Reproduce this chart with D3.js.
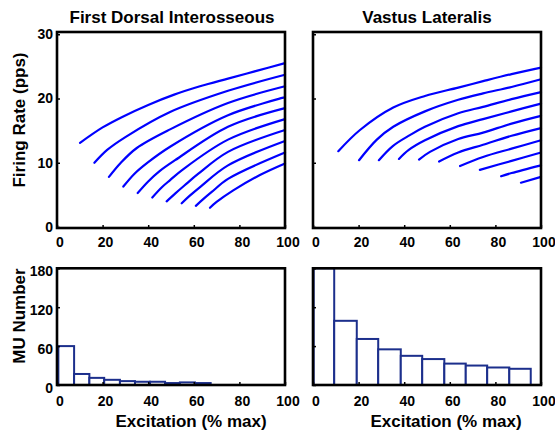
<!DOCTYPE html>
<html>
<head>
<meta charset="utf-8">
<script src="https://cdn.jsdelivr.net/npm/d3@7"></script>
<style>
  body { margin: 0; background: #fff; }
  svg { display: block; font-family: "Liberation Sans", Arial, Helvetica, sans-serif; font-weight: bold; }
</style>
</head>
<body>
<svg width="555" height="432"></svg>
<script>
const xTicks = [0, 20, 40, 60, 80, 100];
const rateTicks = [0, 10, 20, 30];
const countTicks = [0, 60, 120, 180];

// firing rate curves, [excitation %, rate pps]
const fdiCurves = [
    [[10.1, 13.1], [20, 15.5], [28.4, 17.1], [40, 19.0], [51.4, 20.6], [62.7, 21.9], [75, 23.1], [87.5, 24.3], [100, 25.5]],
    [[16.4, 10.0], [22, 12.0], [30, 14.0], [49.6, 17.9], [75, 21.2], [100, 23.7]],
    [[22.8, 7.8], [28, 10.0], [35, 12.3], [49.6, 15.2], [75, 19.3], [100, 21.9]],
    [[29.1, 6.3], [34, 8.3], [40, 10.1], [49.6, 12.5], [75, 17.4], [100, 20.2]],
    [[35.4, 5.3], [40, 7.1], [45, 8.7], [51.8, 10.4], [75, 15.6], [100, 18.5]],
    [[41.8, 4.6], [46, 6.2], [49.6, 7.3], [55, 8.9], [75, 13.6], [100, 16.8]],
    [[48.1, 4.0], [51.8, 5.2], [56, 6.5], [62, 8.3], [75, 11.7], [100, 15.1]],
    [[54.7, 3.7], [58, 4.8], [63, 6.3], [75, 9.6], [100, 13.4]],
    [[60.9, 3.3], [64, 4.3], [68, 5.5], [75, 7.5], [100, 11.6]],
    [[67.1, 3.0], [70, 3.9], [77.3, 5.7], [89, 8.1], [100, 9.9]]
];
const vlCurves = [
    [[11.1, 11.8], [20.6, 15.1], [35.2, 18.6], [49.1, 20.4], [63.7, 21.7], [74.6, 22.7], [87.1, 23.8], [100, 24.8]],
    [[20.2, 10.4], [28.0, 13.6], [35.2, 15.6], [49.1, 18.0], [63.7, 19.8], [74.6, 20.8], [87.1, 21.8], [100, 23.0]],
    [[28.9, 10.4], [35, 12.6], [42.5, 14.3], [49.1, 15.6], [63.7, 17.7], [74.6, 18.7], [87.1, 19.9], [100, 21.0]],
    [[37.7, 10.6], [42, 12.0], [49.1, 13.5], [63.7, 15.7], [74.6, 16.8], [87.1, 18.0], [100, 19.2]],
    [[46.5, 10.5], [51.3, 11.7], [63.7, 13.7], [74.6, 14.7], [87.1, 16.1], [100, 17.3]],
    [[55.3, 10.2], [63.7, 11.6], [74.6, 12.8], [87.1, 14.2], [100, 15.4]],
    [[64.5, 9.5], [74.6, 10.9], [87.1, 12.2], [100, 13.5]],
    [[73.2, 8.9], [87.1, 10.3], [100, 11.6]],
    [[82.5, 7.9], [87.1, 8.4], [100, 9.6]],
    [[91.2, 6.9], [100, 7.8]]
];

// recruitment threshold histograms
const fdiBinEdges = [0.6, 7.5, 14.2, 20.7, 27.6, 34.2, 40.8, 47.4, 53.9, 60.5, 67.4];
const fdiCounts = [60, 17, 11, 8, 6, 5, 5, 3, 4, 3];
const vlBinEdges = [0.3, 9.3, 19.2, 28.6, 38.5, 47.9, 57.6, 67.0, 76.4, 86.1, 95.5];
const vlCounts = [180, 99, 71, 55, 45, 40, 33, 30, 27, 25];

const svg = d3.select('svg');
const FONT = '"Liberation Sans", Arial, Helvetica, sans-serif';

function makeScales(x0, x1, y0, y1, yDomain) {
    const x = d3.scaleLinear().domain([0, 100]).range([x0, x1]);
    const y = d3.scaleLinear().domain(yDomain).range([y1, y0]);
    return {x, y};
}

function drawAxes(x, y, yTicks, yLabels, xPad, yShift) {
    const xa = svg.append('g')
        .attr('transform', `translate(0,${y.range()[0]})`)
        .call(d3.axisBottom(x).tickValues(xTicks).tickSize(-3).tickPadding(xPad));
    const ya = svg.append('g')
        .attr('transform', `translate(${x.range()[0]},0)`)
        .call(d3.axisLeft(y).tickValues(yTicks).tickSize(-3).tickPadding(4)
            .tickFormat(yLabels ? d3.format('d') : () => ''));
    [xa, ya].forEach(a => {
        a.attr('font-family', FONT).attr('font-size', 14).attr('font-weight', 'bold');
        a.select('.domain').remove();
        a.selectAll('line').attr('stroke', '#000').attr('stroke-width', 1.5);
        a.selectAll('text').attr('fill', '#000');
    });
    xa.selectAll('text').attr('dx', 2.5);
    ya.selectAll('text').attr('transform', `translate(0,${yShift})`);
}

function drawFrame(x, y) {
    const [xa, xb] = x.range();
    const [yb, ya] = y.range();
    svg.append('rect')
        .attr('x', xa).attr('y', ya)
        .attr('width', xb - xa).attr('height', yb - ya)
        .attr('fill', 'none').attr('stroke', '#000').attr('stroke-width', 2.6);
}

function drawCurves(x, y, curves) {
    const line = d3.line().x(d => x(d[0])).y(d => y(d[1])).curve(d3.curveCatmullRom.alpha(0.5));
    svg.append('g').selectAll('path')
        .data(curves)
        .join('path')
        .attr('d', line)
        .attr('fill', 'none').attr('stroke', '#0000ff').attr('stroke-width', 2.2)
        .attr('stroke-linecap', 'round');
}

function drawHist(x, y, edges, counts) {
    svg.append('g').selectAll('rect')
        .data(counts)
        .join('rect')
        .attr('x', (d, i) => x(edges[i]))
        .attr('width', (d, i) => x(edges[i + 1]) - x(edges[i]))
        .attr('y', d => y(d))
        .attr('height', d => y(0) - y(d))
        .attr('fill', '#fff').attr('stroke', '#1c2f8c').attr('stroke-width', 2);
}

// top row: firing rates
const fdiTop = makeScales(57, 285, 32, 228, [-0.15, 30.35]);
drawCurves(fdiTop.x, fdiTop.y, fdiCurves);
drawAxes(fdiTop.x, fdiTop.y, rateTicks, true, 9, 0);
drawFrame(fdiTop.x, fdiTop.y);

const vlTop = makeScales(313, 541, 32, 228, [-0.15, 30.35]);
drawCurves(vlTop.x, vlTop.y, vlCurves);
drawAxes(vlTop.x, vlTop.y, rateTicks, false, 9, 0);
drawFrame(vlTop.x, vlTop.y);

// bottom row: threshold histograms
const fdiBot = makeScales(57, 285, 268.3, 385, [0, 180]);
drawHist(fdiBot.x, fdiBot.y, fdiBinEdges, fdiCounts);
drawAxes(fdiBot.x, fdiBot.y, countTicks, true, 11.5, 3);
drawFrame(fdiBot.x, fdiBot.y);

const vlBot = makeScales(313, 541, 268.3, 385, [0, 180]);
drawHist(vlBot.x, vlBot.y, vlBinEdges, vlCounts);
drawAxes(vlBot.x, vlBot.y, countTicks, false, 11.5, 3);
drawFrame(vlBot.x, vlBot.y);

// labels
function label(txt, x, y, rotate) {
    svg.append('text')
        .attr('transform', `translate(${x},${y})` + (rotate ? ' rotate(-90)' : ''))
        .attr('text-anchor', 'middle')
        .attr('font-size', 17)
        .attr('fill', '#000')
        .text(txt);
}
label('First Dorsal Interosseous', 172, 22.7);
label('Vastus Lateralis', 427, 22.7);
label('Firing Rate (pps)', 25, 120, true);
label('MU Number', 25, 316, true);
label('Excitation (% max)', 191, 427);
label('Excitation (% max)', 446, 427);
</script>
</body>
</html>
